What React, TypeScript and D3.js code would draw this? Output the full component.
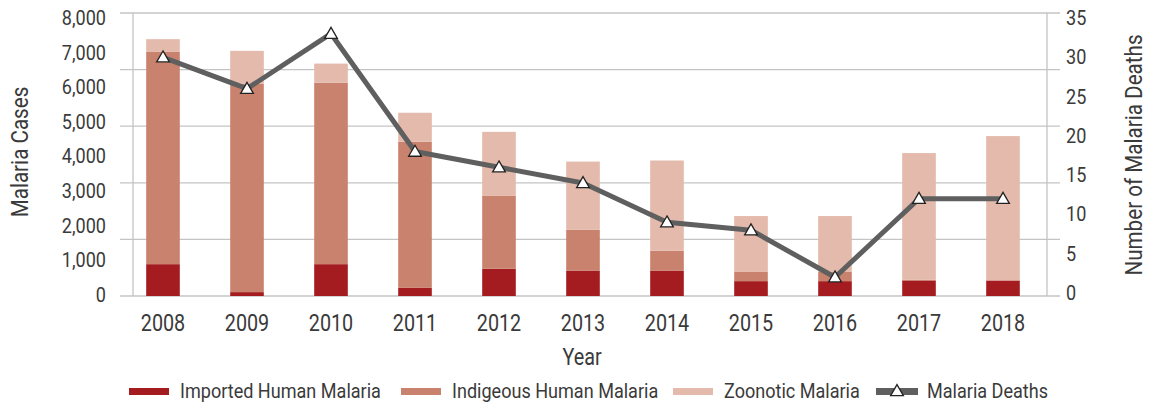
import * as d3 from "d3";
import { useEffect, useRef } from "react";

const years = ["2008", "2009", "2010", "2011", "2012", "2013", "2014", "2015", "2016", "2017", "2018"];
const imported = [900, 110, 900, 230, 770, 720, 720, 420, 420, 440, 440];
const indigenous = [6000, 5890, 5130, 4130, 2070, 1150, 560, 260, 260, 20, 0];
const zoonotic = [360, 930, 540, 820, 1800, 1930, 2550, 1580, 1580, 3580, 4080];
const deaths = [30, 26, 33, 18, 16, 14, 9, 8, 2, 12, 12];

const caseTicks = [0, 1000, 2000, 3000, 4000, 5000, 6000, 7000, 8000];
const deathTicks = [0, 5, 10, 15, 20, 25, 30, 35];
const gridTicks = [0, 1600, 3200, 4800, 6400, 8000];

const seriesKeys = ["imported", "indigenous", "zoonotic"];
const seriesNames = ["Imported Human Malaria", "Indigeous Human Malaria", "Zoonotic Malaria"];
const colors = ["#a51c20", "#c9826e", "#e3baab"];

const W = 1151;
const H = 405;
const SX = 0.86; // condensed look
const FONT = "Roboto, sans-serif";
const TEXT = "#3a3a3a";

export default function App() {
    const svgRef = useRef<SVGSVGElement>(null);

    useEffect(() => {
        const svg = d3.select(svgRef.current);
        svg.selectAll("*").remove();

        const rows = years.map((y, i) => ({
            year: y,
            imported: imported[i],
            indigenous: indigenous[i],
            zoonotic: zoonotic[i],
        }));
        const stacked = d3.stack<any>().keys(seriesKeys)(rows);

        const x = d3.scaleBand().domain(years).range([121, 1045]).paddingInner(0.6).paddingOuter(0.3);
        const y = d3.scaleLinear().domain([0, 8000]).range([296, 13]);
        // tick labels (and the deaths line) sit slightly inside the gridline range
        const yLab = d3.scaleLinear().domain([0, 8000]).range([295, 18]);
        const yR = d3.scaleLinear().domain([0, 35]).range([293, 18]);

        const txt = (g: any, tx: number, ty: number, s: string, size: number, anchor: string, rot = 0) =>
            g.append("text")
                .attr("transform", `translate(${tx},${ty})${rot ? ` rotate(${rot})` : ""} scale(${SX},1)`)
                .attr("text-anchor", anchor)
                .attr("dominant-baseline", "central")
                .attr("font-family", FONT)
                .attr("font-size", size)
                .attr("fill", TEXT)
                .text(s);

        // gridlines
        const grid = svg.append("g");
        grid.selectAll("line")
            .data(gridTicks)
            .join("line")
            .attr("x1", 120)
            .attr("x2", 1060)
            .attr("y1", d => y(d))
            .attr("y2", d => y(d))
            .attr("stroke", "#c4c4c4")
            .attr("stroke-width", 1.3);

        // axis lines
        svg.append("line").attr("x1", 133).attr("x2", 133).attr("y1", y(8000)).attr("y2", y(0))
            .attr("stroke", "#c4c4c4").attr("stroke-width", 1.3);
        svg.append("line").attr("x1", 1047).attr("x2", 1047).attr("y1", y(8000)).attr("y2", y(0))
            .attr("stroke", "#c4c4c4").attr("stroke-width", 1.3);

        // bars
        const bars = svg.append("g");
        stacked.forEach((layer, li) => {
            bars.append("g")
                .attr("fill", colors[li])
                .selectAll("rect")
                .data(layer)
                .join("rect")
                .attr("x", (d: any) => x(d.data.year)!)
                .attr("width", x.bandwidth())
                .attr("y", (d: any) => y(d[1]))
                .attr("height", (d: any) => y(d[0]) - y(d[1]));
        });

        // deaths line
        const line = d3.line<number>()
            .x((d, i) => x(years[i])! + x.bandwidth() / 2)
            .y(d => yR(d));
        svg.append("path")
            .attr("d", line(deaths))
            .attr("fill", "none")
            .attr("stroke", "#5f5f5f")
            .attr("stroke-width", 5)
            .attr("stroke-linejoin", "round");

        const tri = d3.symbol().type(d3.symbolTriangle).size(70);
        svg.append("g")
            .selectAll("path")
            .data(deaths)
            .join("path")
            .attr("d", tri)
            .attr("transform", (d, i) => `translate(${x(years[i])! + x.bandwidth() / 2},${yR(d) + 1})`)
            .attr("fill", "#fff")
            .attr("stroke", "#222")
            .attr("stroke-width", 1.3);

        // tick labels
        const labels = svg.append("g");
        caseTicks.forEach(t => txt(labels, 106, yLab(t), d3.format(",")(t), 21, "end"));
        deathTicks.forEach(t => txt(labels, 1066, yR(t), String(t), 21, "start"));
        years.forEach(yr => txt(labels, x(yr)! + x.bandwidth() / 2, 323, yr, 23, "middle"));

        // axis titles
        txt(labels, 582, 357, "Year", 23, "middle");
        txt(labels, 19, 152, "Malaria Cases", 24, "middle", -90);
        txt(labels, 1133, 155, "Number of Malaria Deaths", 24, "middle", -90);

        // legend
        const legend = svg.append("g");
        const legX = [129, 401, 673];
        seriesNames.forEach((n, i) => {
            legend.append("rect").attr("x", legX[i]).attr("y", 388).attr("width", 40).attr("height", 7)
                .attr("fill", colors[i]);
            txt(legend, legX[i] + 51, 391, n, 21, "start");
        });
        legend.append("rect").attr("x", 876).attr("y", 388).attr("width", 42).attr("height", 7).attr("fill", "#5f5f5f");
        legend.append("path").attr("d", tri).attr("transform", "translate(897,392)")
            .attr("fill", "#fff").attr("stroke", "#222").attr("stroke-width", 1.3);
        txt(legend, 927, 391, "Malaria Deaths", 21, "start");
    }, []);

    return <svg ref={svgRef} width={W} height={H} style={{ display: "block", position: "absolute", left: 0, top: 0 }} />;
}
